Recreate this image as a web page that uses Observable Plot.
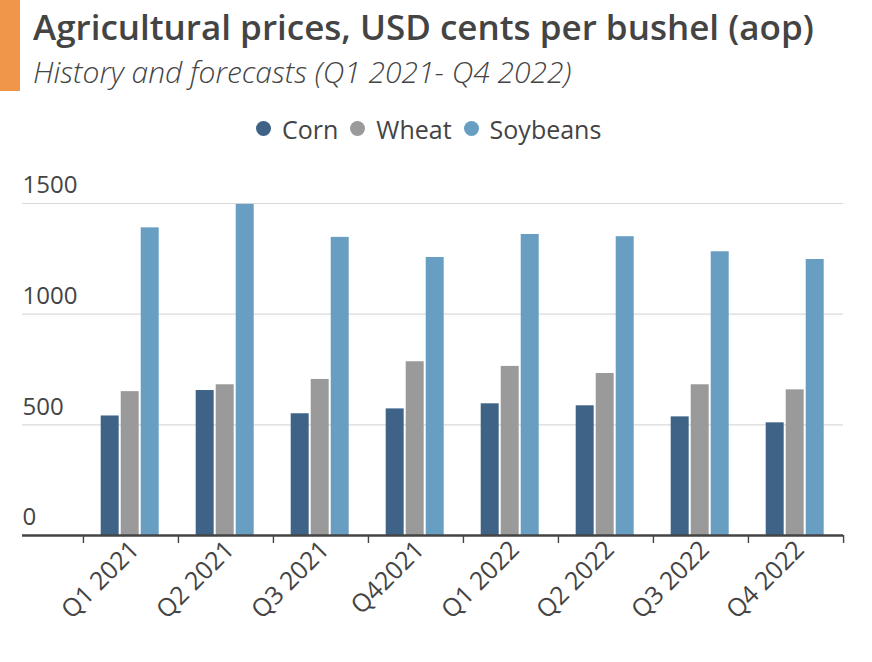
<!DOCTYPE html>
<html><head><meta charset="utf-8">
<script src="https://cdn.jsdelivr.net/npm/d3@7"></script>
<script src="https://cdn.jsdelivr.net/npm/@observablehq/plot@0.6"></script>
<style>
html,body{margin:0;padding:0;background:#fff}
body{font-family:"Open Sans",sans-serif;color:#444;width:872px;height:662px;overflow:hidden;position:relative}
#bar{position:absolute;left:0;top:0;width:20px;height:91px;background:#f0964a}
#title{position:absolute;left:33px;top:9px;font-size:35px;line-height:1;font-weight:600;white-space:nowrap;color:#444}
#subtitle{position:absolute;left:33px;top:57px;font-size:30px;line-height:1;font-weight:300;font-style:italic;white-space:nowrap;color:#444}
#legend{position:absolute;left:256px;top:117px;font-size:25px;line-height:1;display:flex;gap:12px;color:#444}
#legend .item{display:flex;align-items:center;gap:11px}
#legend .dot{width:15px;height:15px;border-radius:50%;display:inline-block;margin-top:-2px}
#chart{position:absolute;left:0;top:160px}
</style>
</head><body>
<div id="bar"></div>
<div id="title">Agricultural prices, USD cents per bushel (aop)</div>
<div id="subtitle">History and forecasts (Q1 2021- Q4 2022)</div>
<div id="legend"></div>
<div id="chart"></div>
<script>
const quarters = ["Q1 2021","Q2 2021","Q3 2021","Q42021","Q1 2022","Q2 2022","Q3 2022","Q4 2022"];
const series = ["Corn","Wheat","Soybeans"];
const colors = ["#3e6387","#9a9a9a","#689ec1"];
const corn = [540, 655, 550, 572, 595, 586, 536, 509];
const wheat = [650, 681, 705, 785, 764, 732, 681, 658];
const soybeans = [1390, 1496, 1347, 1256, 1360, 1350, 1282, 1247];
const yTicks = [0, 500, 1000, 1500];
const gridTicks = [500, 1000, 1500];

const values = [corn, wheat, soybeans];
const data = [];
series.forEach((s, si) => quarters.forEach((q, qi) => data.push({quarter: q, crop: s, value: values[si][qi]})));

// legend
const leg = document.getElementById("legend");
series.forEach((s, i) => {
  const it = document.createElement("span"); it.className = "item";
  const d = document.createElement("span"); d.className = "dot"; d.style.background = colors[i];
  const t = document.createElement("span"); t.textContent = s;
  it.appendChild(d); it.appendChild(t); leg.appendChild(it);
});

const W = 872, H = 502, mL = 22, mR = 29, mT = 43, mB = 127, inset = 60;
const bw = (W - mL - mR - inset) / quarters.length;
const insets = [[17.7, 59.3], [37.7, 39.3], [57.7, 19.3]];

const marks = [
  Plot.ruleY(gridTicks, {stroke: "#dadada", strokeWidth: 1.2}),
  ...series.map((s, i) => Plot.barY(data.filter(d => d.crop === s), {
    x: "quarter", y: "value", fill: colors[i],
    insetLeft: insets[i][0] * bw / 95.1, insetRight: insets[i][1] * bw / 95.1
  })),
  Plot.ruleY([0], {stroke: "#444", strokeWidth: 2.4}),
  Plot.axisY(yTicks, {anchor: "left", tickSize: 0, tickPadding: 0, textAnchor: "start", dy: -18, fontSize: 24, fill: "#444", tickFormat: d => String(d)}),
  Plot.axisX(quarters, {anchor: "bottom", tickSize: 8, tickPadding: 0, dx: -bw / 2, tickFormat: () => "", stroke: "#444", strokeWidth: 1.4}),
  Plot.axisX([quarters[quarters.length - 1]], {anchor: "bottom", tickSize: 8, tickPadding: 0, dx: bw / 2, tickFormat: () => "", stroke: "#444", strokeWidth: 1.4}),
  Plot.axisX(quarters, {anchor: "bottom", tickSize: 0, tickPadding: 10, dx: 4, tickRotate: -45, fontSize: 25, fill: "#444"})
];

const chart = Plot.plot({
  width: W, height: H,
  marginLeft: mL, marginRight: mR, marginTop: mT, marginBottom: mB,
  style: {fontFamily: "Open Sans", color: "#444", background: "transparent"},
  x: {domain: quarters, padding: 0, insetLeft: inset, label: null},
  y: {domain: [0, 1500], label: null},
  marks
});
document.getElementById("chart").appendChild(chart);
</script>
</body></html>
